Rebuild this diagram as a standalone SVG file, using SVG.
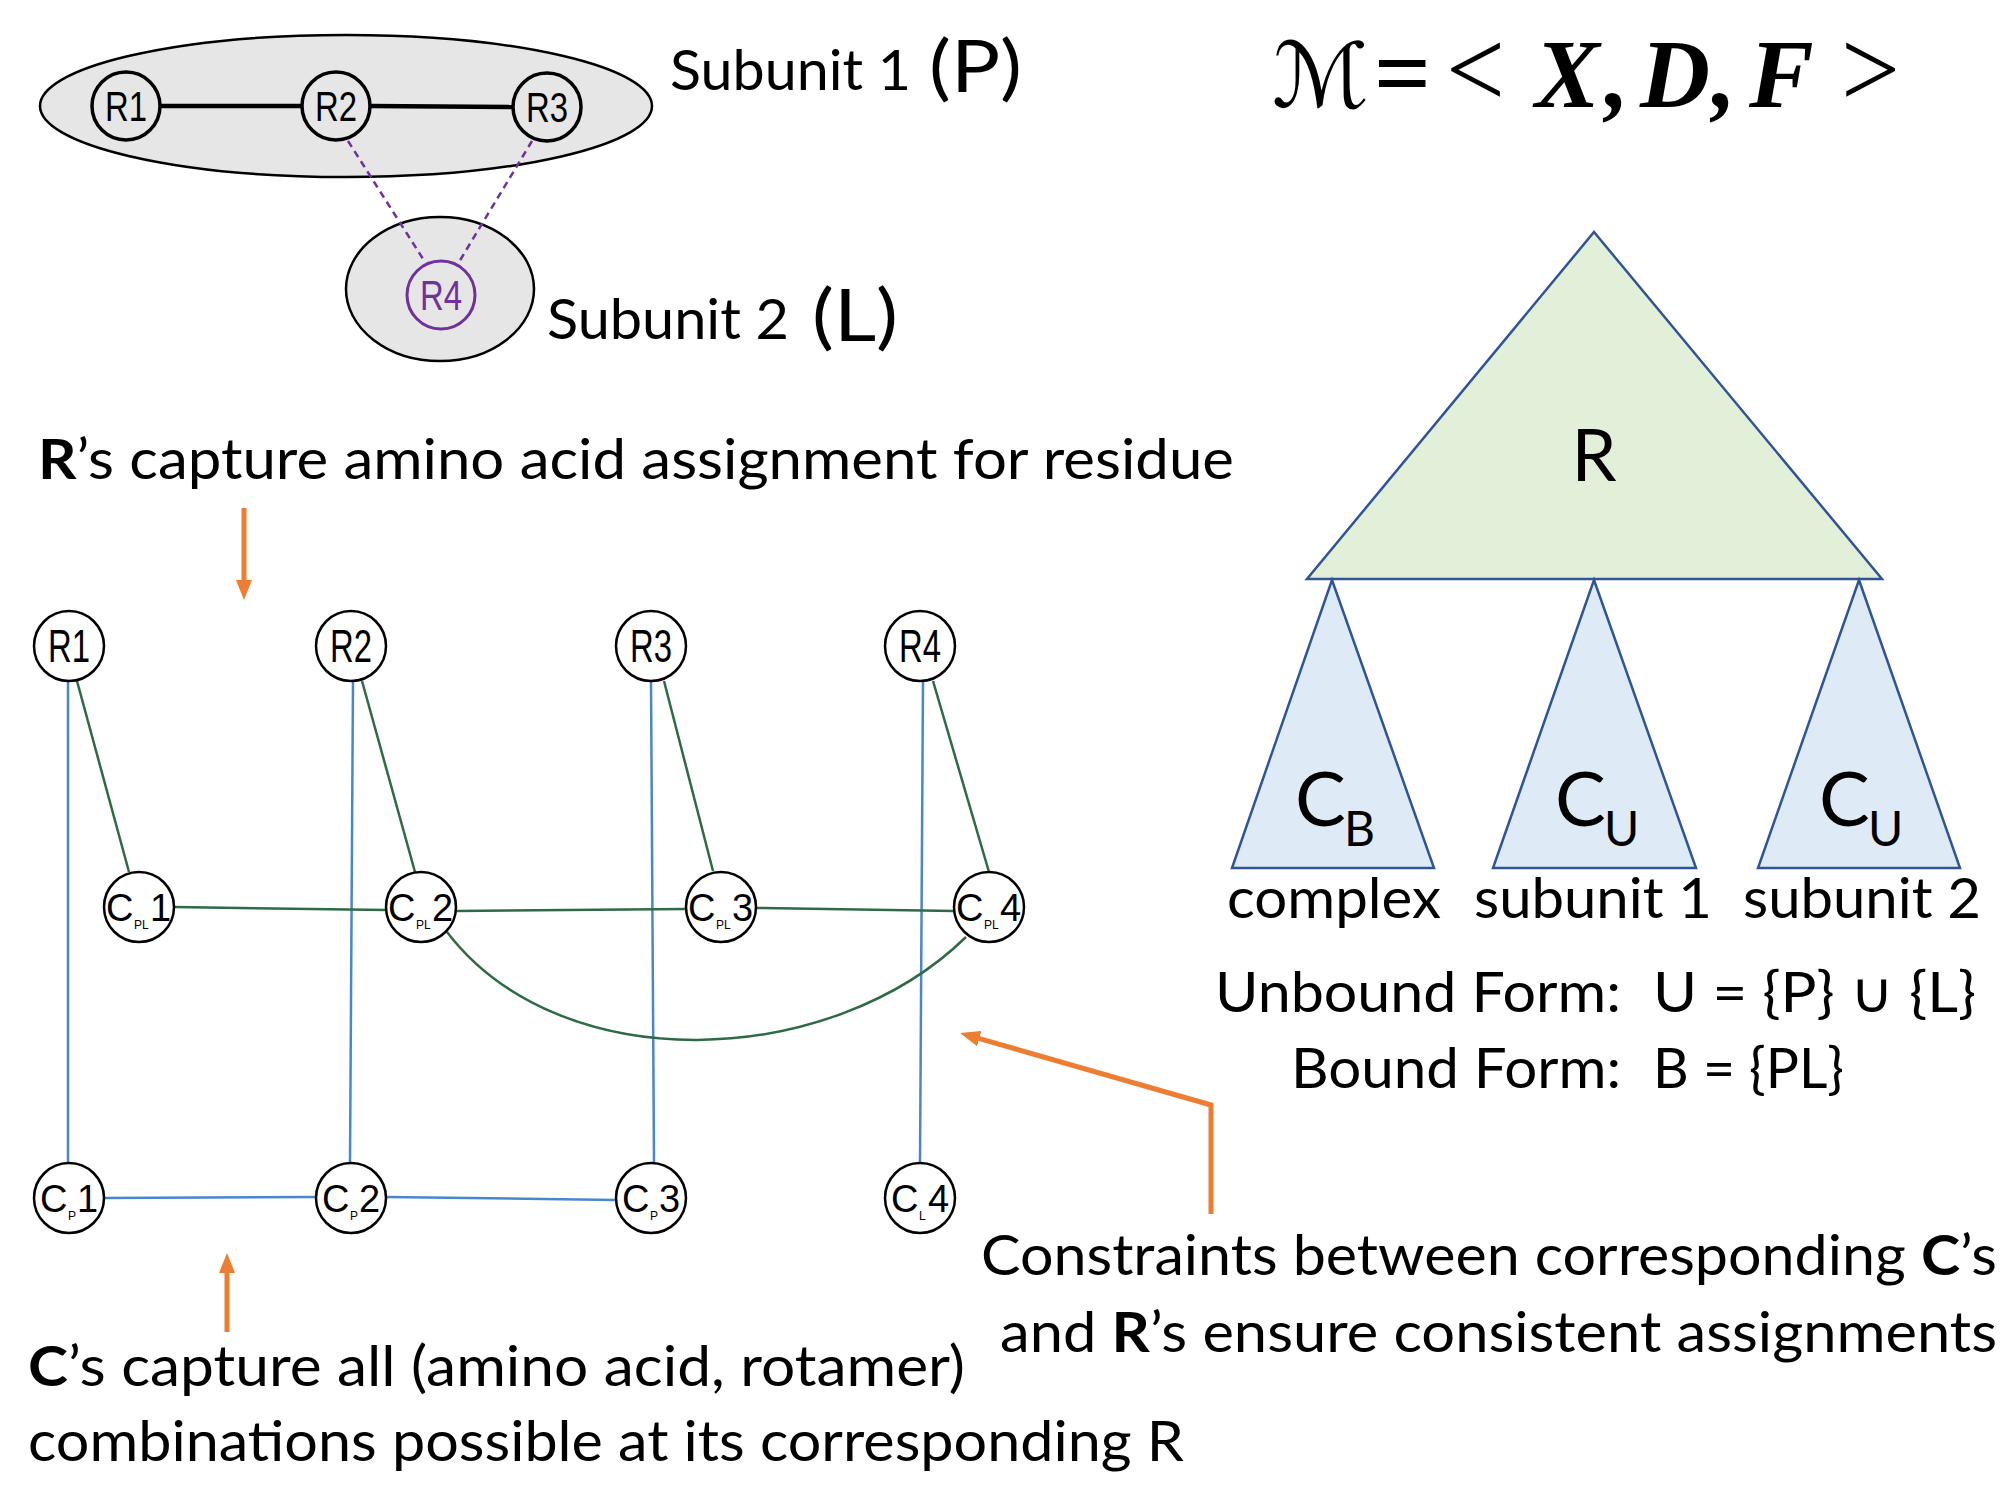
<svg xmlns="http://www.w3.org/2000/svg" width="2003" height="1494" viewBox="0 0 2003 1494">
<style>
.t{font-family:Lato,"Liberation Sans",sans-serif;fill:#000}
.hand{font-family:"Liberation Sans",sans-serif;fill:#000}
.c{font-size:38px}
.s{font-size:12px}
.blue{stroke:#4a86d0;stroke-width:2.5;fill:none}
.green{stroke:#2e6b45;stroke-width:2.5;fill:none}
.orange{stroke:#ed7d31;stroke-width:5;fill:none}
.node{fill:#fff;stroke:#000;stroke-width:2.5}
.tnode{fill:#e7e6e6;stroke:#000;stroke-width:3.5}
.tri{stroke:#2f5597;stroke-width:2.5}
.math{font-family:"Liberation Serif",serif;font-weight:bold;font-style:italic}
</style>
<defs>
<marker id="ah" viewBox="0 0 20 16" markerWidth="20" markerHeight="16" refX="6" refY="8" orient="auto" markerUnits="userSpaceOnUse">
<path d="M0,0 L20,8 L0,16 z" fill="#ed7d31"/>
</marker>
</defs>
<rect width="2003" height="1494" fill="#fff"/>

<!-- top subunits -->
<g id="subunit1">
<ellipse cx="346" cy="106" rx="306" ry="71" fill="#e7e6e6" stroke="#000" stroke-width="2.5"/>
</g>
<g id="subunit2">
<ellipse cx="440" cy="289" rx="94" ry="72" fill="#e7e6e6" stroke="#000" stroke-width="2.5"/>
</g>
<g id="top-connectors">
<line x1="160" y1="106" x2="302" y2="106" stroke="#000" stroke-width="4.5"/>
<line x1="370" y1="106" x2="513" y2="107" stroke="#000" stroke-width="4.5"/>
<line x1="348" y1="141" x2="425" y2="262" stroke="#7030a0" stroke-width="2.5" stroke-dasharray="7,5"/>
<line x1="532" y1="141" x2="459" y2="262" stroke="#7030a0" stroke-width="2.5" stroke-dasharray="7,5"/>
</g>
<g id="top-R1"><circle cx="126" cy="106" r="34" class="tnode"/><text x="126" y="121" class="hand" font-size="42" text-anchor="middle" textLength="42" lengthAdjust="spacingAndGlyphs">R1</text></g>
<g id="top-R2"><circle cx="336" cy="106" r="34" class="tnode"/><text x="336" y="121" class="hand" font-size="42" text-anchor="middle" textLength="42" lengthAdjust="spacingAndGlyphs">R2</text></g>
<g id="top-R3"><circle cx="547" cy="107" r="34" class="tnode"/><text x="547" y="122" class="hand" font-size="42" text-anchor="middle" textLength="42" lengthAdjust="spacingAndGlyphs">R3</text></g>
<g id="top-R4"><circle cx="441" cy="295" r="34" fill="#e7e6e6" stroke="#7030a0" stroke-width="3"/><text x="441" y="310" class="hand" font-size="42" text-anchor="middle" textLength="42" lengthAdjust="spacingAndGlyphs" style="fill:#7030a0">R4</text></g>

<text x="670" y="90" class="t" font-size="56" textLength="241" lengthAdjust="spacingAndGlyphs">Subunit 1</text>
<text x="929" y="92" class="t" font-size="72" textLength="93" lengthAdjust="spacingAndGlyphs">(P)</text>
<text x="547" y="339" class="t" font-size="56" textLength="242" lengthAdjust="spacingAndGlyphs">Subunit 2</text>
<text x="812" y="341" class="t" font-size="72" textLength="86" lengthAdjust="spacingAndGlyphs">(L)</text>

<!-- formula -->
<g id="formula">
<text x="1272" y="107" font-family="DejaVu Serif,DejaVu Sans,serif" font-style="italic" font-size="90" textLength="97" lengthAdjust="spacingAndGlyphs">ℳ</text>
<text x="1374" y="107" font-family="Liberation Serif,serif" font-weight="bold" font-size="100" textLength="57" lengthAdjust="spacingAndGlyphs">=</text>
<text x="1446" y="107" font-family="Liberation Serif,serif" font-size="112" textLength="59" lengthAdjust="spacingAndGlyphs">&lt;</text>
<text x="1535" y="107" class="math" font-size="97">X</text>
<text x="1605" y="107" class="math" font-size="97">,</text>
<text x="1640" y="107" class="math" font-size="97">D</text>
<text x="1712" y="107" class="math" font-size="97">,</text>
<text x="1749" y="107" class="math" font-size="97">F</text>
<text x="1841" y="107" font-family="Liberation Serif,serif" font-size="112" textLength="59" lengthAdjust="spacingAndGlyphs">&gt;</text>
</g>

<!-- tree -->
<g id="tree-R">
<polygon points="1594,232 1882,579 1307,579" class="tri" fill="#e2f0d9"/>
<text x="1594" y="481" class="t" font-size="72" text-anchor="middle">R</text>
</g>
<g id="tree-CB">
<polygon points="1332,580 1434,868 1232,868" class="tri" fill="#deebf7"/>
<text class="t"><tspan x="1295" y="826" font-size="76">C</tspan><tspan x="1344" y="846" font-size="48">B</tspan></text>
</g>
<g id="tree-CU1">
<polygon points="1594,580 1696,868 1493,868" class="tri" fill="#deebf7"/>
<text class="t"><tspan x="1555" y="826" font-size="76">C</tspan><tspan x="1604" y="846" font-size="48">U</tspan></text>
</g>
<g id="tree-CU2">
<polygon points="1859,580 1960,868 1758,868" class="tri" fill="#deebf7"/>
<text class="t"><tspan x="1819" y="826" font-size="76">C</tspan><tspan x="1868" y="846" font-size="48">U</tspan></text>
</g>
<text x="1227" y="918" class="t" font-size="57" textLength="214" lengthAdjust="spacingAndGlyphs">complex</text>
<text x="1474" y="918" class="t" font-size="57" textLength="238" lengthAdjust="spacingAndGlyphs">subunit 1</text>
<text x="1743" y="918" class="t" font-size="57" textLength="238" lengthAdjust="spacingAndGlyphs">subunit 2</text>
<text x="1215" y="1012" class="t" font-size="56" textLength="406" lengthAdjust="spacingAndGlyphs">Unbound Form:</text>
<text x="1653" y="1012" class="t" font-size="56" textLength="323" lengthAdjust="spacingAndGlyphs">U = {P} ∪ {L}</text>
<text x="1291" y="1088" class="t" font-size="56" textLength="330" lengthAdjust="spacingAndGlyphs">Bound Form:</text>
<text x="1653" y="1088" class="t" font-size="56" textLength="191" lengthAdjust="spacingAndGlyphs">B = {PL}</text>

<!-- annotation texts -->
<text x="38" y="479" class="t" font-size="56" textLength="1196" lengthAdjust="spacingAndGlyphs"><tspan font-weight="bold">R</tspan>’s capture amino acid assignment for residue</text>
<text x="981" y="1275" class="t" font-size="56" textLength="1016" lengthAdjust="spacingAndGlyphs">Constraints between corresponding <tspan font-weight="bold">C</tspan>’s</text>
<text x="1000" y="1352" class="t" font-size="56" textLength="997" lengthAdjust="spacingAndGlyphs">and <tspan font-weight="bold">R</tspan>’s ensure consistent assignments</text>
<text x="28" y="1386" class="t" font-size="56" textLength="937" lengthAdjust="spacingAndGlyphs"><tspan font-weight="bold">C</tspan>’s capture all (amino acid, rotamer)</text>
<text x="28" y="1461" class="t" font-size="56" textLength="1156" lengthAdjust="spacingAndGlyphs">combinations possible at its corresponding R</text>

<!-- connectors -->
<g id="connectors">
<path class="blue" d="M68,681 L68,1163"/>
<path class="blue" d="M353,681 L350,1163"/>
<path class="blue" d="M651,681 L654,1163"/>
<path class="blue" d="M923,681 L920,1163"/>
<path class="blue" d="M105,1198 L316,1197"/>
<path class="blue" d="M386,1197 L616,1200"/>
<path class="green" d="M77,681 L129,872"/>
<path class="green" d="M362,681 L415,872"/>
<path class="green" d="M664,681 L713,871"/>
<path class="green" d="M933,681 L989,872"/>
<path class="green" d="M174,907 L386,910"/>
<path class="green" d="M456,911 L686,909"/>
<path class="green" d="M756,908 L954,911"/>
<path class="green" d="M447,932 C560,1080 830,1070 966,937"/>
<path class="orange" d="M244,508 L244,586" marker-end="url(#ah)"/>
<path class="orange" d="M227,1332 L227,1267" marker-end="url(#ah)"/>
<path class="orange" d="M1211,1214 L1211,1105 L973.5,1036.9" marker-end="url(#ah)"/>
</g>

<!-- graph nodes -->
<g id="R1"><circle cx="69" cy="646" r="35" class="node"/><text x="69" y="662" class="hand" font-size="46" text-anchor="middle" textLength="42" lengthAdjust="spacingAndGlyphs">R1</text></g>
<g id="R2"><circle cx="351" cy="646" r="35" class="node"/><text x="351" y="662" class="hand" font-size="46" text-anchor="middle" textLength="42" lengthAdjust="spacingAndGlyphs">R2</text></g>
<g id="R3"><circle cx="651" cy="646" r="35" class="node"/><text x="651" y="662" class="hand" font-size="46" text-anchor="middle" textLength="42" lengthAdjust="spacingAndGlyphs">R3</text></g>
<g id="R4"><circle cx="920" cy="646" r="35" class="node"/><text x="920" y="662" class="hand" font-size="46" text-anchor="middle" textLength="42" lengthAdjust="spacingAndGlyphs">R4</text></g>

<g id="CPL1"><circle cx="139" cy="907" r="35" class="node"/><text class="hand"><tspan class="c" x="106" y="921">C</tspan><tspan class="s" x="134" y="929">PL</tspan><tspan class="c" x="150" y="921">1</tspan></text></g>
<g id="CPL2"><circle cx="421" cy="907" r="35" class="node"/><text class="hand"><tspan class="c" x="388" y="921">C</tspan><tspan class="s" x="416" y="929">PL</tspan><tspan class="c" x="432" y="921">2</tspan></text></g>
<g id="CPL3"><circle cx="721" cy="907" r="35" class="node"/><text class="hand"><tspan class="c" x="688" y="921">C</tspan><tspan class="s" x="716" y="929">PL</tspan><tspan class="c" x="732" y="921">3</tspan></text></g>
<g id="CPL4"><circle cx="989" cy="907" r="35" class="node"/><text class="hand"><tspan class="c" x="956" y="921">C</tspan><tspan class="s" x="984" y="929">PL</tspan><tspan class="c" x="1000" y="921">4</tspan></text></g>

<g id="CP1"><circle cx="69" cy="1198" r="35" class="node"/><text class="hand"><tspan class="c" x="40" y="1212">C</tspan><tspan class="s" x="68" y="1220">P</tspan><tspan class="c" x="77" y="1212">1</tspan></text></g>
<g id="CP2"><circle cx="351" cy="1198" r="35" class="node"/><text class="hand"><tspan class="c" x="322" y="1212">C</tspan><tspan class="s" x="350" y="1220">P</tspan><tspan class="c" x="359" y="1212">2</tspan></text></g>
<g id="CP3"><circle cx="651" cy="1198" r="35" class="node"/><text class="hand"><tspan class="c" x="622" y="1212">C</tspan><tspan class="s" x="650" y="1220">P</tspan><tspan class="c" x="659" y="1212">3</tspan></text></g>
<g id="CL4"><circle cx="920" cy="1198" r="35" class="node"/><text class="hand"><tspan class="c" x="891" y="1212">C</tspan><tspan class="s" x="919" y="1220">L</tspan><tspan class="c" x="928" y="1212">4</tspan></text></g>
</svg>
